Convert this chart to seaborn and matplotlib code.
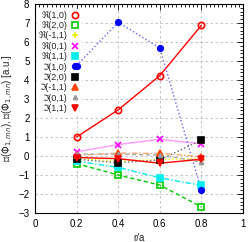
import numpy as np
import matplotlib
matplotlib.use("Agg")
import matplotlib.pyplot as plt
from matplotlib.ticker import MultipleLocator
from matplotlib.lines import Line2D
import seaborn as sns

r = [0.2, 0.4, 0.6, 0.8]
re_10 = [1.0, 2.43, 4.23, 6.88]
re_20 = [-0.4, -1.0, -1.53, -2.68]
re_m11 = [-0.15, -0.25, -0.2, -0.1]
re_01 = [0.22, 0.6, 0.88, 0.64]
re_11 = [-0.27, -0.6, -1.15, -1.55]
im_10 = [4.76, 7.04, 5.68, -1.8]
im_20 = [-0.17, -0.35, -0.21, 0.85]
im_m11 = [0.03, 0.15, 0.14, -0.03]
im_01 = [0.1, 0.1, 0.05, -0.31]
im_11 = [-0.08, -0.14, -0.38, -0.17]

labels = ["ℜ(1,0)", "ℜ(2,0)", "ℜ(-1,1)", "ℜ(0,1)", "ℜ(1,1)",
          "ℑ(1,0)", "ℑ(2,0)", "ℑ(-1,1)", "ℑ(0,1)", "ℑ(1,1)"]
series = [re_10, re_20, re_m11, re_01, re_11, im_10, im_20, im_m11, im_01, im_11]
xticks = [0, 0.2, 0.4, 0.6, 0.8, 1]
xticklabels = ["0", "0.2", "0.4", "0.6", "0.8", "1"]

# (line colour, line style, marker colour, marker, filled, marker size)
styles = [
    ("#ff0000", "-", "#ff0000", "o", False, 4.5),
    ("#00cc00", (0, (3, 2)), "#00cc00", "s", False, 4.5),
    ("#ffff00", ":", "#eeee00", "+", False, 5),
    ("#ff99ff", "-", "#ff00ff", "x", False, 4.5),
    ("#00eeee", (0, (4, 1.5, 1, 1.5)), "#00eeee", "s", True, 4),
    ("#6666ff", ":", "#0000ff", "o", True, 4),
    ("#666666", ":", "#000000", "s", True, 4),
    ("#ffaa77", (0, (4, 1.5, 1, 1.5)), "#ff4500", "^", True, 4.5),
    ("#aaaaaa", (0, (3, 2)), "#999999", "^", True, 3),
    ("#ff0000", "-", "#ff0000", "v", True, 4.5),
]

sns.set_style("white")
plt.rcParams['font.family'] = ['Liberation Sans', 'DejaVu Sans']
plt.rcParams['mathtext.fontset'] = 'dejavusans'

fig = plt.figure(figsize=(2.49, 2.42), dpi=100)
ax = fig.add_axes([35 / 249, 1 - 213 / 242, 208 / 249, 209 / 242])

handles = []
for lab, ys, (lc, ls, mc, mk, filled, ms) in zip(labels, series, styles):
    sns.lineplot(x=r, y=ys, ax=ax, color=lc, linestyle=ls, linewidth=1.0,
                 zorder=2)
    face = mc if filled else "none"
    ax.plot(r, ys, linestyle="none", marker=mk, markersize=ms,
            markerfacecolor=face, markeredgecolor=mc, markeredgewidth=1.2,
            zorder=3)
    handles.append(Line2D([], [], linestyle="none", marker=mk, markersize=ms,
                          markerfacecolor=face, markeredgecolor=mc,
                          markeredgewidth=1.2))

ax.set_xticks(xticks, labels=xticklabels)
ax.set_xlim(0, 1)
ax.set_ylim(-3, 8)
ax.xaxis.set_minor_locator(MultipleLocator(0.02))
ax.yaxis.set_major_locator(MultipleLocator(1))
ax.yaxis.set_minor_locator(MultipleLocator(0.2))
ax.tick_params(which="both", direction="in", top=True, right=True,
               labelsize=7, colors="black", width=0.6)
ax.tick_params(which="major", length=4, pad=4)
ax.tick_params(which="minor", length=2)
ax.grid(True, which="major", color="#bbbbbb", linestyle=(0, (3, 3)),
        linewidth=0.6, zorder=0)
for s in ax.spines.values():
    s.set_color("black")
    s.set_linewidth(0.8)

ax.set_xlabel("r/a", fontsize=7, labelpad=3)
ax.set_ylabel(r"ℜ($\Phi_{1,mn}$), ℑ($\Phi_{1,mn}$) [a.u.]", fontsize=7,
              labelpad=2)

leg = ax.legend(handles, labels, loc="upper left", bbox_to_anchor=(0.0, 0.985),
                fontsize=6.5, markerfirst=False, frameon=True, fancybox=False,
                handlelength=1.0, handletextpad=0.3, labelspacing=0.15,
                borderpad=0.2, borderaxespad=0.2)
leg.get_frame().set_edgecolor("white")
leg.get_frame().set_facecolor("white")
leg.get_frame().set_alpha(1)
for t in leg.get_texts():
    t.set_ha("right")
leg.set_zorder(1)

fig.savefig("out.png", dpi=100)
